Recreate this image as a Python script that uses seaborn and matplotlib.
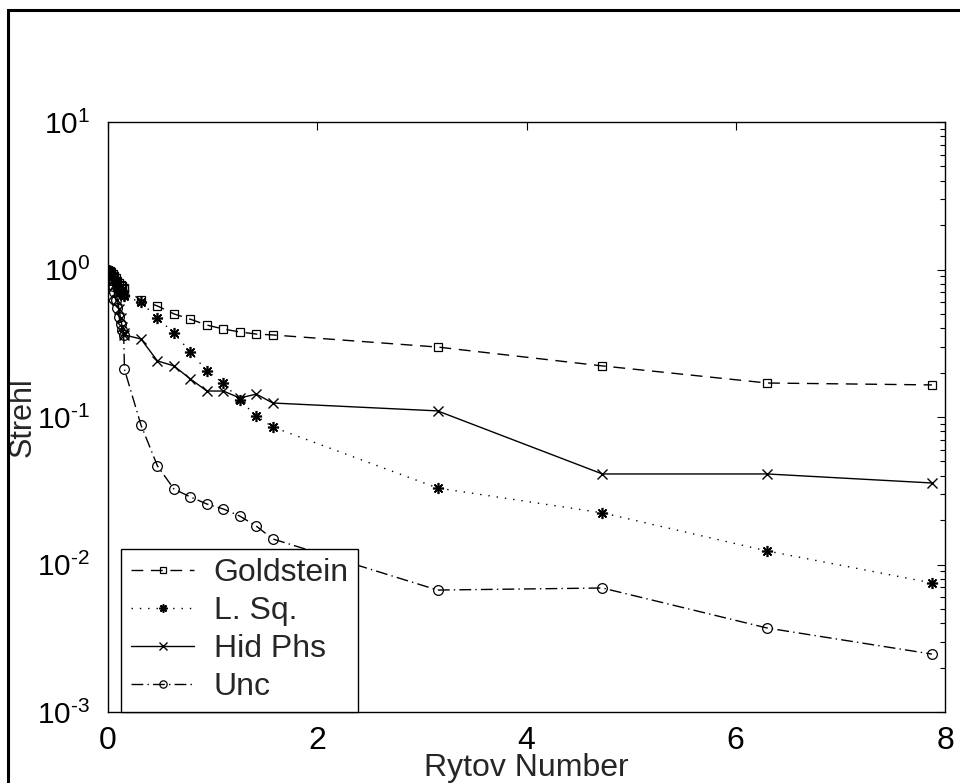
import numpy as np
import pandas as pd
import matplotlib
matplotlib.use("Agg")
import matplotlib.pyplot as plt
from matplotlib.patches import Rectangle
import seaborn as sns

# ---- data ----
rytov = [0.0, 0.015, 0.03, 0.045, 0.06, 0.075, 0.09, 0.105, 0.12, 0.135, 0.15,
         0.1575, 0.315, 0.4725, 0.63, 0.7875, 0.945, 1.1025, 1.26, 1.4175, 1.575,
         3.15, 4.725, 6.3, 7.875]

goldstein = [1.0, 0.98, 0.96, 0.93, 0.90, 0.87, 0.84, 0.81, 0.79, 0.77, 0.75,
             0.74, 0.62, 0.566, 0.50, 0.46, 0.42, 0.395, 0.377, 0.365, 0.36,
             0.298, 0.222, 0.170, 0.165]

lsq = [1.0, 0.97, 0.94, 0.90, 0.86, 0.82, 0.78, 0.75, 0.72, 0.69, 0.67,
       0.66, 0.60, 0.469, 0.371, 0.276, 0.205, 0.170, 0.130, 0.1016, 0.0855,
       0.033, 0.0224, 0.01235, 0.0075]

hidphs = [0.62, 0.92, 0.88, 0.83, 0.77, 0.70, 0.62, 0.54, 0.47, 0.41, 0.37,
          0.36, 0.338, 0.240, 0.222, 0.181, 0.150, 0.150, 0.1345, 0.143, 0.1244,
          0.110, 0.0411, 0.0411, 0.0357]

unc = [1.0, 0.92, 0.85, 0.77, 0.70, 0.62, 0.55, 0.48, 0.43, 0.39, 0.36,
       0.21, 0.0883, 0.0466, 0.0325, 0.0287, 0.0257, 0.0238, 0.0213, 0.0182, 0.0149,
       0.00671, 0.00693, 0.00371, 0.00247]

series_names = ["Goldstein", "L. Sq.", "Hid Phs", "Unc"]
x_ticks = [0, 2, 4, 6, 8]
y_ticks = [1e-3, 1e-2, 1e-1, 1e0, 1e1]
y_tick_labels = [r"$\mathregular{10^{\text{-}3}}$", r"$\mathregular{10^{\text{-}2}}$",
                 r"$\mathregular{10^{\text{-}1}}$", r"$\mathregular{10^{0}}$",
                 r"$\mathregular{10^{1}}$"]

sns.set_theme(style="white")
plt.rcParams["font.family"] = ["Liberation Sans", "DejaVu Sans"]
plt.rcParams["mathtext.fontset"] = "custom"
plt.rcParams["mathtext.rm"] = "Liberation Sans"
plt.rcParams["mathtext.it"] = "Liberation Sans"
plt.rcParams["mathtext.bf"] = "Liberation Sans"
plt.rcParams["axes.unicode_minus"] = False

fig = plt.figure(figsize=(9.6, 7.83), dpi=100)
ax = fig.add_axes([108 / 960, 1 - 712 / 783, (945 - 108) / 960, (712 - 122) / 783])

styles = {
    "Goldstein": dict(linestyle=(0, (8.5, 5.5)), marker="s", markersize=6,
                      markerfacecolor="none", markeredgewidth=0.9),
    "L. Sq.": dict(linestyle=(0, (1, 5)), marker=(8, 2, 0), markersize=8,
                   markeredgewidth=1.2),
    "Hid Phs": dict(linestyle="-", marker="x", markersize=7, markeredgewidth=1.0),
    "Unc": dict(linestyle=(0, (8.5, 3, 1, 3)), marker="o", markersize=7,
                markerfacecolor="none", markeredgewidth=0.9),
}

for name, vals in zip(series_names, [goldstein, lsq, hidphs, unc]):
    df = pd.DataFrame({"Rytov": rytov, "Strehl": vals})
    sns.lineplot(data=df, x="Rytov", y="Strehl", ax=ax, color="black",
                 linewidth=1.0, estimator=None, sort=True, label=name,
                 markeredgecolor="black", **styles[name])

ax.set_yscale("log")
ax.set_xlim(0, 8)
ax.set_ylim(1e-3, 1e1)
ax.set_xticks(x_ticks)
ax.set_xticklabels([str(t) for t in x_ticks])
ax.set_yticks(y_ticks)
ax.set_yticklabels(y_tick_labels)
ax.yaxis.set_minor_locator(matplotlib.ticker.LogLocator(base=10, subs=np.arange(2, 10), numticks=20))
ax.yaxis.set_minor_formatter(matplotlib.ticker.NullFormatter())
ax.set_xlabel("Rytov Number", fontsize=23, labelpad=-2)
ax.set_ylabel("Strehl", fontsize=22)
ax.yaxis.set_label_coords(-0.084, 0.5)

ax.tick_params(axis="both", which="both", direction="in", top=True, right=True,
               colors="black")
ax.tick_params(axis="x", labelsize=23)
ax.tick_params(axis="y", labelsize=21.5)
ax.tick_params(which="major", length=6, width=0.8, pad=10)
ax.tick_params(which="minor", length=3.5, width=0.8)
ax.tick_params(axis="y", which="major", pad=13)
for s in ax.spines.values():
    s.set_color("black")
    s.set_linewidth(1.0)

leg = ax.legend(loc="lower left", bbox_to_anchor=(0.0155, 0.0), borderaxespad=0,
                fontsize=23, frameon=True, fancybox=False, edgecolor="black",
                handlelength=2.0, handletextpad=0.6, labelspacing=0.25,
                borderpad=0.3, markerscale=0.75)
leg.get_frame().set_linewidth(1.0)
leg.get_frame().set_alpha(1.0)

# figure border
fig.patches.append(Rectangle((8 / 960, -0.5), 2.0, 1.5 - 10 / 783,
                             transform=fig.transFigure, fill=False,
                             edgecolor="black", linewidth=2.2, zorder=10))

fig.savefig("out.png", dpi=100, facecolor="white")
